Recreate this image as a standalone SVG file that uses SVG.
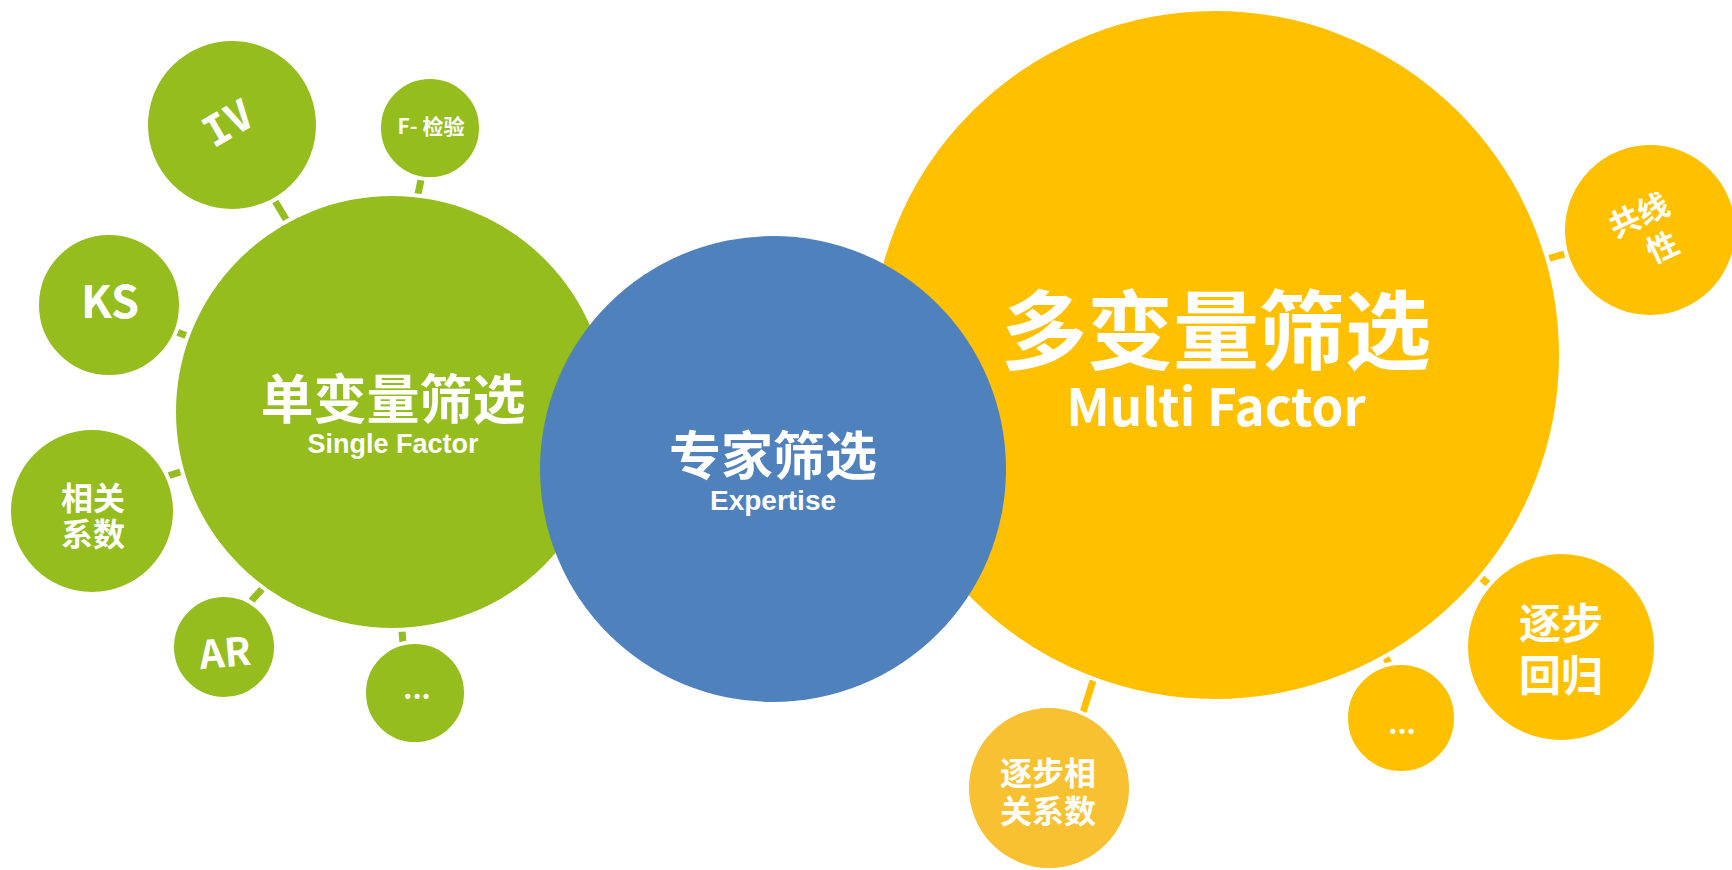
<svg xmlns="http://www.w3.org/2000/svg" width="1732" height="870" viewBox="0 0 1732 870">
  <style>
    .green { fill: #94BD1D; }
    .yellow { fill: #FFC000; }
    .amber { fill: #F8C132; }
    .blue { fill: #4F81BD; }
    .rim { stroke: #FFFFFF; stroke-width: 4; }
    .bar-g { stroke: #94BD1D; stroke-width: 7; }
    .bar-y { stroke: #FFC000; stroke-width: 7; }
    .cjk { font-family: "Noto Sans CJK SC", "Liberation Sans", sans-serif; font-weight: 700; fill: #FFFFFF; text-anchor: middle; }
    .lat { font-family: "Liberation Sans", Arial, sans-serif; font-weight: 700; fill: #FFFFFF; text-anchor: middle; }
    .mono { font-family: "DejaVu Sans Mono", monospace; font-weight: 700; fill: #FFFFFF; text-anchor: middle; }
  </style>
  <rect width="1732" height="870" fill="#FFFFFF"/>

  <!-- short links between the satellite circles and the main circles -->
  <g id="connectors">
    <line class="bar-g" x1="266" y1="186" x2="296" y2="236"/>
    <line class="bar-g" x1="424" y1="166" x2="415" y2="208"/>
    <line class="bar-g" x1="166" y1="328" x2="198" y2="340"/>
    <line class="bar-g" x1="155" y1="480" x2="196" y2="467"/>
    <line class="bar-g" x1="245" y1="608" x2="272" y2="578"/>
    <line class="bar-g" x1="401" y1="618" x2="404" y2="656"/>
    <line class="bar-y" x1="1533" y1="263" x2="1582" y2="249"/>
    <line class="bar-y" x1="1472" y1="570" x2="1500" y2="594"/>
    <line class="bar-y" x1="1380" y1="644" x2="1395" y2="678"/>
    <line class="bar-y" x1="1097" y1="668" x2="1078" y2="728"/>
  </g>

  <!-- single-factor cluster -->
  <g id="single-factor">
    <circle class="green rim" cx="392" cy="412" r="218"/>
    <text class="cjk" x="393" y="419" font-size="53">单变量筛选</text>
    <text class="lat" x="393" y="453" font-size="27">Single Factor</text>
  </g>
  <g id="iv">
    <circle class="green rim" cx="232" cy="125" r="86"/>
    <text class="mono" font-size="42" transform="translate(228 123) rotate(-30)" x="0" y="15">IV</text>
  </g>
  <g id="f-test">
    <circle class="green rim" cx="430" cy="128" r="51"/>
    <text class="cjk" x="431" y="134" font-size="21">F- 检验</text>
  </g>
  <g id="ks">
    <circle class="green rim" cx="109" cy="305" r="72"/>
    <text class="cjk" x="110" y="318" font-size="45">KS</text>
  </g>
  <g id="correlation">
    <circle class="green rim" cx="92" cy="511" r="83"/>
    <text class="cjk" x="93" y="510" font-size="32">相关</text>
    <text class="cjk" x="93" y="546" font-size="32">系数</text>
  </g>
  <g id="ar">
    <circle class="green rim" cx="224" cy="647" r="52"/>
    <text class="cjk" font-size="39" transform="translate(225 653) rotate(-5)" x="0" y="14">AR</text>
  </g>
  <g id="more-single">
    <circle class="green rim" cx="415" cy="693" r="51"/>
    <text class="cjk" x="417" y="699" font-size="28">...</text>
  </g>

  <!-- multi-factor cluster -->
  <g id="multi-factor">
    <circle class="yellow rim" cx="1215" cy="355" r="346"/>
    <text class="cjk" x="1216" y="363" font-size="86">多变量筛选</text>
    <text class="cjk" x="1216" y="426" font-size="51">Multi Factor</text>
  </g>
  <g id="collinearity">
    <circle class="yellow rim" cx="1650" cy="230" r="87"/>
    <g transform="translate(1648 230) rotate(-25)">
      <text class="cjk" x="-2" y="-6" font-size="31">共线</text>
      <text class="cjk" x="6" y="33" font-size="31">性</text>
    </g>
  </g>
  <g id="stepwise-regression">
    <circle class="yellow rim" cx="1561" cy="647" r="95"/>
    <text class="cjk" x="1561" y="639" font-size="42">逐步</text>
    <text class="cjk" x="1561" y="691" font-size="42">回归</text>
  </g>
  <g id="more-multi">
    <circle class="yellow rim" cx="1401" cy="718" r="55"/>
    <text class="cjk" x="1402" y="734" font-size="28">...</text>
  </g>
  <g id="stepwise-correlation">
    <circle class="amber rim" cx="1049" cy="788" r="82"/>
    <text class="cjk" x="1048" y="785" font-size="32">逐步相</text>
    <text class="cjk" x="1048" y="823" font-size="32">关系数</text>
  </g>

  <!-- expert screening sits on top of both clusters -->
  <g id="expertise">
    <circle class="blue" cx="773" cy="469" r="233"/>
    <text class="cjk" x="773" y="475" font-size="52">专家筛选</text>
    <text class="lat" x="773" y="510" font-size="28">Expertise</text>
  </g>
</svg>
